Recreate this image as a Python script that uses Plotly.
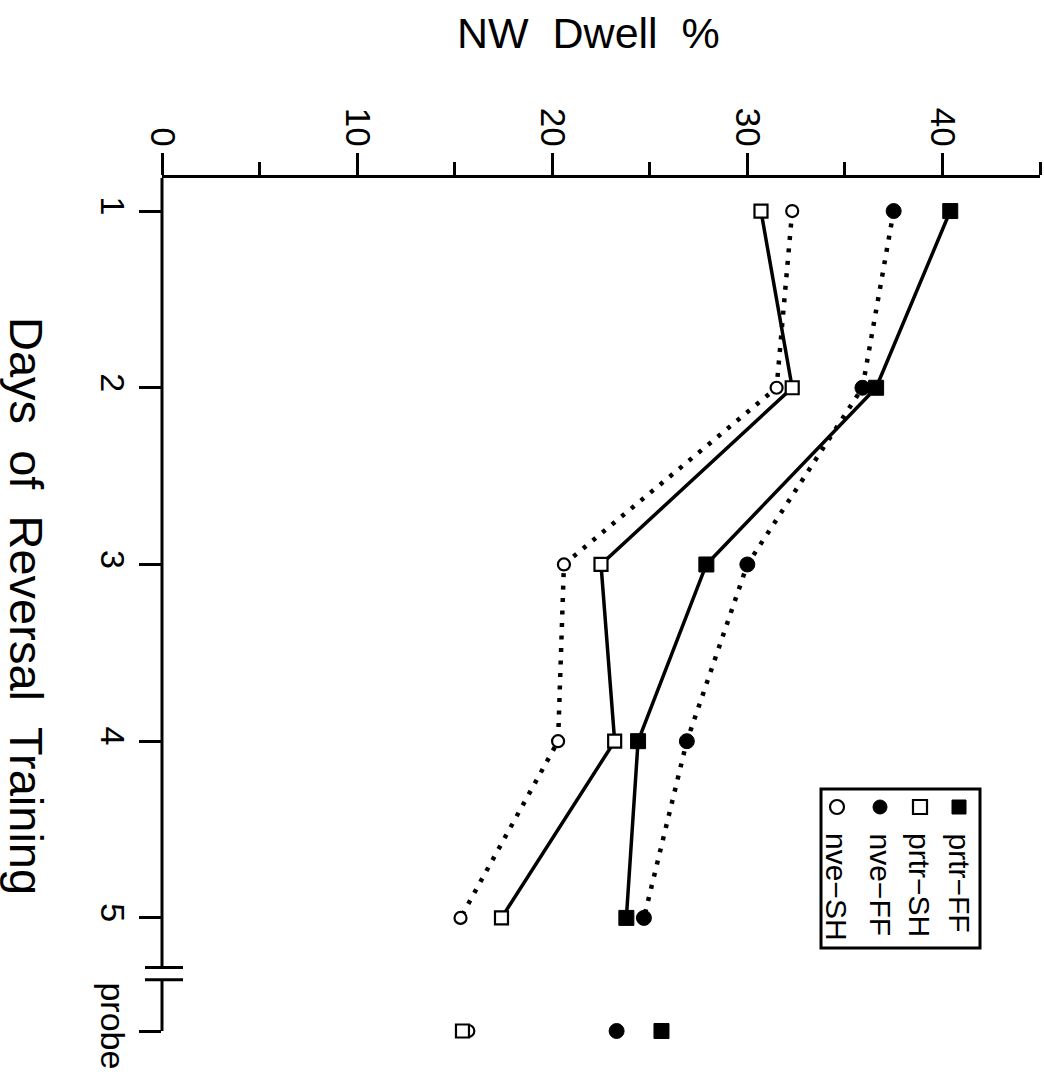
import plotly.graph_objects as go

# ---- data -------------------------------------------------------------
days = [1, 2, 3, 4, 5]
day_labels = ["1", "2", "3", "4", "5"]
probe_label = "probe"
probe_pos = 5.64          # position of the probe trial on the day axis

series_names = ["prtr\u2212FF", "prtr\u2212SH", "nve\u2212FF", "nve\u2212SH"]

prtr_ff = [40.4, 36.6, 27.9, 24.4, 23.8]
prtr_sh = [30.7, 32.3, 22.5, 23.2, 17.4]
nve_ff = [37.5, 35.9, 30.0, 26.9, 24.7]
nve_sh = [32.3, 31.5, 20.6, 20.3, 15.3]

prtr_ff_probe = 25.6
prtr_sh_probe = 15.4
nve_ff_probe = 23.3
nve_sh_probe = 15.7

value_ticks = [0, 10, 20, 30, 40]

# ---- layout constants -------------------------------------------------
W, H = 1044, 1079
ML, MR, MT, MB = 162, 4, 178, 48
X_RANGE = [0, 45]
Y_TOP, Y_BOTTOM = 0.813, probe_pos
BREAK = (5.28, 5.35)
FONT = "Liberation Sans, Arial, Helvetica, sans-serif"
INK = "black"

plot_w = W - ML - MR
plot_h = H - MT - MB


def px_to_paper_x(px):
    return (px - ML) / plot_w


def px_to_paper_y(py):
    return (H - MB - py) / plot_h


def day_to_paper_y(v):
    return (Y_BOTTOM - v) / (Y_BOTTOM - Y_TOP)


styles = {
    "prtr-FF": dict(symbol="square", size=15, color=INK, line=dict(color=INK, width=1)),
    "prtr-SH": dict(symbol="square", size=13, color="white", line=dict(color=INK, width=2.2)),
    "nve-FF": dict(symbol="circle", size=15, color=INK, line=dict(color=INK, width=1)),
    "nve-SH": dict(symbol="circle", size=12, color="white", line=dict(color=INK, width=2.2)),
}
solid = dict(color=INK, width=3.5)
dotted = dict(color=INK, width=4.5, dash="4px,8.5px")

fig = go.Figure()

groups = [
    ("prtr-FF", prtr_ff, prtr_ff_probe, solid),
    ("prtr-SH", prtr_sh, prtr_sh_probe, solid),
    ("nve-FF", nve_ff, nve_ff_probe, dotted),
    ("nve-SH", nve_sh, nve_sh_probe, dotted),
]

# dotted groups first so the solid lines sit on top
for key, vals, probe_val, line in sorted(groups, key=lambda g: g[3] is solid):
    fig.add_trace(go.Scatter(
        x=vals + [None, probe_val],
        y=days + [None, probe_pos],
        mode="lines+markers",
        connectgaps=False,
        line=line,
        marker=styles[key],
        name=key,
        showlegend=False,
        cliponaxis=False,
    ))

# ---- axes -------------------------------------------------------------
fig.update_xaxes(
    range=X_RANGE,
    side="top",
    showgrid=False,
    zeroline=False,
    showline=True,
    linecolor=INK,
    linewidth=3,
    tickmode="array",
    tickvals=value_ticks,
    ticktext=[str(v) for v in value_ticks],
    ticks="outside",
    ticklen=22,
    tickwidth=3,
    tickcolor=INK,
    tickangle=90,
    ticklabelstandoff=-6,
    tickfont=dict(family=FONT, size=35, color=INK),
    minor=dict(dtick=5, tick0=0, ticks="outside", ticklen=13, tickwidth=3,
               tickcolor=INK, showgrid=False),
)

fig.update_yaxes(
    range=[Y_BOTTOM, Y_TOP],
    showgrid=False,
    zeroline=False,
    showline=False,
    tickmode="array",
    tickvals=days + [probe_pos],
    ticktext=day_labels + [probe_label],
    ticks="outside",
    ticklen=22,
    tickwidth=3,
    tickcolor=INK,
    tickangle=90,
    ticklabelstandoff=-3,
    tickfont=dict(family=FONT, size=34, color=INK),
)

shapes = []
# broken day axis
axis_line = dict(color=INK, width=3)
shapes.append(dict(type="line", xref="paper", yref="paper",
                   x0=0, x1=0, y0=day_to_paper_y(Y_TOP), y1=day_to_paper_y(BREAK[0]),
                   line=axis_line))
shapes.append(dict(type="line", xref="paper", yref="paper",
                   x0=0, x1=0, y0=day_to_paper_y(BREAK[1]), y1=day_to_paper_y(Y_BOTTOM),
                   line=axis_line))
for b in BREAK:
    shapes.append(dict(type="line", xref="paper", yref="paper",
                       x0=px_to_paper_x(145), x1=px_to_paper_x(183),
                       y0=day_to_paper_y(b), y1=day_to_paper_y(b),
                       line=axis_line))

# legend box with rotated entries
shapes.append(dict(type="rect", xref="paper", yref="paper",
                   x0=px_to_paper_x(821), x1=px_to_paper_x(980),
                   y0=px_to_paper_y(948), y1=px_to_paper_y(789),
                   line=dict(color=INK, width=3), fillcolor="rgba(0,0,0,0)"))

legend_cols = [959, 920, 880, 837]
legend_keys = ["prtr-FF", "prtr-SH", "nve-FF", "nve-SH"]
key_y = 807
annotations = []
for cx, key, name in zip(legend_cols, legend_keys, series_names):
    st = styles[key]
    half = 7
    filled = st["color"] == INK
    shapes.append(dict(
        type="rect" if st["symbol"] == "square" else "circle",
        xref="paper", yref="paper",
        x0=px_to_paper_x(cx - half), x1=px_to_paper_x(cx + half),
        y0=px_to_paper_y(key_y + half), y1=px_to_paper_y(key_y - half),
        fillcolor=INK if filled else "white",
        line=dict(color=INK, width=1 if filled else 2.2),
    ))
    annotations.append(dict(
        text=name, xref="paper", yref="paper",
        x=px_to_paper_x(cx), y=px_to_paper_y(831),
        xanchor="center", yanchor="top", textangle=90, showarrow=False,
        font=dict(family=FONT, size=30, color=INK),
    ))

# axis titles
annotations.append(dict(
    text="NW\u00a0\u00a0Dwell\u00a0\u00a0%", xref="paper", yref="paper",
    x=px_to_paper_x(588), y=px_to_paper_y(33),
    xanchor="center", yanchor="middle", showarrow=False,
    font=dict(family=FONT, size=43, color=INK),
))
annotations.append(dict(
    text="Days\u00a0\u00a0of\u00a0\u00a0Reversal\u00a0\u00a0Training", xref="paper", yref="paper",
    x=px_to_paper_x(27), y=px_to_paper_y(606),
    xanchor="center", yanchor="middle", textangle=90, showarrow=False,
    font=dict(family=FONT, size=47, color=INK),
))

fig.update_layout(
    width=W, height=H,
    margin=dict(l=ML, r=MR, t=MT, b=MB, pad=0),
    paper_bgcolor="white",
    plot_bgcolor="white",
    shapes=shapes,
    annotations=annotations,
    showlegend=False,
)

fig.write_html("out.html")
